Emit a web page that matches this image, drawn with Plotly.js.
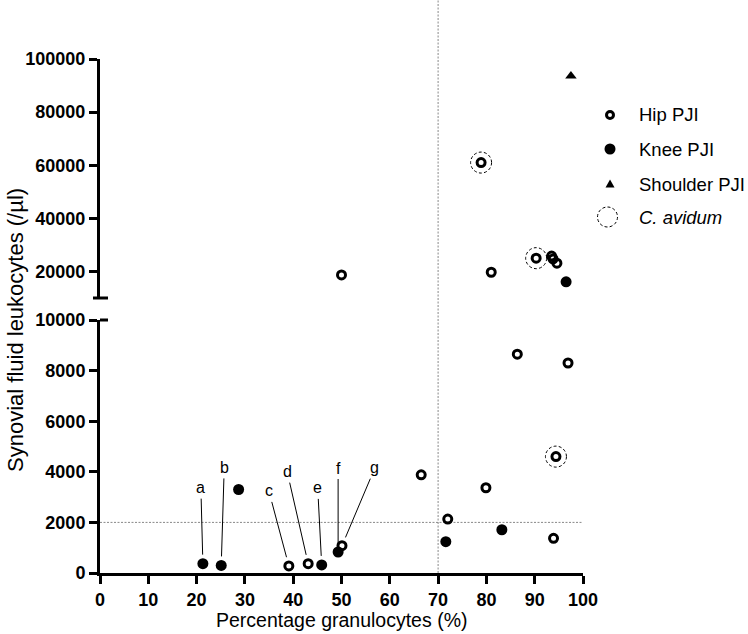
<!DOCTYPE html>
<html><head><meta charset="utf-8">
<script src="https://cdn.plot.ly/plotly-3.0.1.min.js"></script>
<style>body{margin:0;background:#fff}</style>
</head><body><div id="chart" style="width:748px;height:634px"></div>
<script>
// ---- data ----
const hipX = [39.1, 43.1, 50.1, 66.5, 72.0, 79.9, 93.9, 86.4, 96.9, 94.4, 50.0, 81.0, 78.9, 90.3, 93.5, 93.8, 94.6];
const hipY = [280, 370, 1080, 3880, 2130, 3370, 1370, 8650, 8300, 4600, 18700, 19700, 61000, 25000, 25800, 24700, 23100];
const kneeX = [21.3, 25.1, 28.7, 45.9, 49.3, 71.6, 83.2, 96.5];
const kneeY = [370, 300, 3300, 320, 830, 1240, 1710, 16100];
const shoulderX = [97.5];
const shoulderY = [93600];
const avidumX = [78.9, 90.3, 94.4];
const avidumY = [61000, 25000, 4600];
const xTicks = [0, 10, 20, 30, 40, 50, 60, 70, 80, 90, 100];
const yLowerTicks = [0, 2000, 4000, 6000, 8000, 10000];
const yUpperTicks = [20000, 40000, 60000, 80000, 100000];
const breakValue = 10000;
const yUpperMax = 100000;
const granulocyteCutoff = 70;
const leukocyteCutoff = 2000;
const pointLabels = ['a', 'b', 'c', 'd', 'e', 'f', 'g'];
const labelSeries = ['knee', 'knee', 'hip', 'hip', 'knee', 'knee', 'hip'];
const labelIndex = [0, 1, 0, 1, 3, 4, 2];
const legendNames = ['Hip PJI', 'Knee PJI', 'Shoulder PJI', '<i>C. avidum</i>'];

// ---- styling / layout ----
const FONT = '"Liberation Sans", Arial, sans-serif';
const labelOffsets = [[-2, -76], [3, -98], [-20, -75], [-21, -92], [-4, -77], [0, -84], [33, -78]];

function split(xs, ys) {
  const lo = {x: [], y: []}, hi = {x: [], y: []};
  xs.forEach((x, i) => {
    const t = ys[i] > breakValue ? hi : lo;
    t.x.push(x); t.y.push(ys[i]);
  });
  return {lo, hi};
}
const hip = split(hipX, hipY), knee = split(kneeX, kneeY), sh = split(shoulderX, shoulderY);

const hipMarker = {symbol: 'circle-open', size: 8, color: '#000', line: {width: 3, color: '#000'}};
const kneeMarker = {symbol: 'circle', size: 11, color: '#000', line: {width: 0}};
const shMarker = {symbol: 'triangle-up', size: 10, color: '#000', line: {width: 0}};

function tr(d, m, ya) {
  return {type: 'scatter', mode: 'markers', x: d.x, y: d.y, yaxis: ya, xaxis: 'x',
          marker: m, cliponaxis: false, showlegend: false, hoverinfo: 'x+y'};
}
const data = [
  tr(hip.lo, hipMarker, 'y'), tr(hip.hi, hipMarker, 'y2'),
  tr(knee.lo, kneeMarker, 'y'), tr(knee.hi, kneeMarker, 'y2'),
  tr(sh.lo, shMarker, 'y'), tr(sh.hi, shMarker, 'y2')
];

const bold = vals => vals.map(v => '<b>' + v + '</b>');
const axisCommon = {
  showline: true, linewidth: 3, linecolor: '#000', ticks: 'outside', ticklen: 8, tickwidth: 3,
  tickcolor: '#000', showgrid: false, zeroline: false, fixedrange: true, tickmode: 'array',
  tickfont: {family: FONT, size: 18, color: '#000'}
};

const plotTop = 59, plotBottom = 573, plotLeft = 100, plotRight = 583;
const plotH = plotBottom - plotTop, plotW = plotRight - plotLeft;
const py = p => (plotBottom - p) / plotH;   // pixel -> paper y
const px = p => (p - plotLeft) / plotW;     // pixel -> paper x

const shapes = [];
// reference lines
shapes.push({type: 'line', xref: 'x', yref: 'paper', x0: granulocyteCutoff, x1: granulocyteCutoff,
  y0: 0, y1: py(0), line: {color: '#888', width: 1, dash: '2px,1.5px'}, layer: 'below'});
shapes.push({type: 'line', xref: 'x', yref: 'y', x0: 0, x1: 100, y0: leukocyteCutoff, y1: leukocyteCutoff,
  line: {color: '#888', width: 1, dash: '2px,1.5px'}, layer: 'below'});
// axis break caps
shapes.push({type: 'line', xref: 'paper', yref: 'y2 domain', x0: px(93), x1: px(108), y0: 0, y1: 0,
  line: {color: '#000', width: 3}});
shapes.push({type: 'line', xref: 'paper', yref: 'y domain', x0: px(100), x1: px(108), y0: 1, y1: 1,
  line: {color: '#000', width: 3}});
// C. avidum dashed rings
avidumX.forEach((x, i) => {
  const y = avidumY[i];
  shapes.push({type: 'circle', xref: 'x', yref: y > breakValue ? 'y2' : 'y',
    xsizemode: 'pixel', ysizemode: 'pixel', xanchor: x, yanchor: y,
    x0: -10.5, x1: 10.5, y0: -10.5, y1: 10.5, line: {color: '#000', width: 1, dash: '3px,2.2px'}});
});

// legend (manual)
const legX = px(610), legTextX = px(637);
const legRows = [115, 149, 184, 217].map(py);
shapes.push({type: 'circle', xref: 'paper', yref: 'paper', xsizemode: 'pixel', ysizemode: 'pixel',
  xanchor: legX, yanchor: legRows[0], x0: -3.5, x1: 3.5, y0: -3.5, y1: 3.5, line: {color: '#000', width: 3}});
shapes.push({type: 'circle', xref: 'paper', yref: 'paper', xsizemode: 'pixel', ysizemode: 'pixel',
  xanchor: legX, yanchor: legRows[1], x0: -5.5, x1: 5.5, y0: -5.5, y1: 5.5, fillcolor: '#000', line: {width: 0}});
shapes.push({type: 'path', xref: 'paper', yref: 'paper', xsizemode: 'pixel', ysizemode: 'pixel',
  xanchor: legX, yanchor: legRows[2], path: 'M-4.5,-3.5 L4.5,-3.5 L0,4.5 Z', fillcolor: '#000', line: {width: 0}});
shapes.push({type: 'circle', xref: 'paper', yref: 'paper', xsizemode: 'pixel', ysizemode: 'pixel',
  xanchor: px(607.5), yanchor: legRows[3], x0: -10, x1: 10, y0: -10, y1: 10, line: {color: '#000', width: 1, dash: '3px,2.2px'}});

const annotations = [];
legendNames.forEach((t, i) => annotations.push({xref: 'paper', yref: 'paper', x: legTextX, y: legRows[i],
  xanchor: 'left', yanchor: 'middle', text: t, showarrow: false, font: {family: FONT, size: 18.5, color: '#000'}}));

// point labels
const series = {hip: {x: hipX, y: hipY}, knee: {x: kneeX, y: kneeY}};
pointLabels.forEach((t, i) => {
  const s = series[labelSeries[i]], k = labelIndex[i];
  const y = s.y[k];
  annotations.push({xref: 'x', yref: y > breakValue ? 'y2' : 'y', x: s.x[k], y: y, text: t,
    showarrow: true, arrowhead: 0, arrowwidth: 1, arrowcolor: '#000', standoff: 9,
    ax: labelOffsets[i][0], ay: labelOffsets[i][1], borderpad: 2,
    font: {family: FONT, size: 16, color: '#000'}});
});

// axis titles
annotations.push({xref: 'paper', yref: 'paper', x: 0.5, y: py(620), xanchor: 'center', yanchor: 'middle',
  text: 'Percentage granulocytes (%)', showarrow: false, font: {family: FONT, size: 19.5, color: '#000'}});
annotations.push({xref: 'paper', yref: 'paper', x: px(15), y: py(330), xanchor: 'center', yanchor: 'middle',
  textangle: -90, text: 'Synovial fluid leukocytes (/µl)', showarrow: false, font: {family: FONT, size: 22, color: '#000'}});

const lowerTop = py(320), upperBottom = py(298);
const layout = {
  width: 748, height: 634,
  margin: {l: plotLeft, r: 748 - plotRight, t: plotTop, b: 634 - plotBottom, pad: 0},
  paper_bgcolor: '#fff', plot_bgcolor: 'rgba(0,0,0,0)',
  showlegend: false,
  xaxis: Object.assign({}, axisCommon, {range: [0, 100], tickvals: xTicks, ticktext: bold(xTicks), anchor: 'y', domain: [0, 1]}),
  yaxis: Object.assign({}, axisCommon, {range: [0, breakValue], tickvals: yLowerTicks, ticktext: bold(yLowerTicks), domain: [0, lowerTop], anchor: 'x'}),
  yaxis2: Object.assign({}, axisCommon, {range: [breakValue, yUpperMax], tickvals: yUpperTicks, ticktext: bold(yUpperTicks), domain: [upperBottom, 1], anchor: 'x'}),
  shapes: shapes,
  annotations: annotations
};
Plotly.newPlot('chart', data, layout, {displayModeBar: false, staticPlot: true});
</script></body></html>
